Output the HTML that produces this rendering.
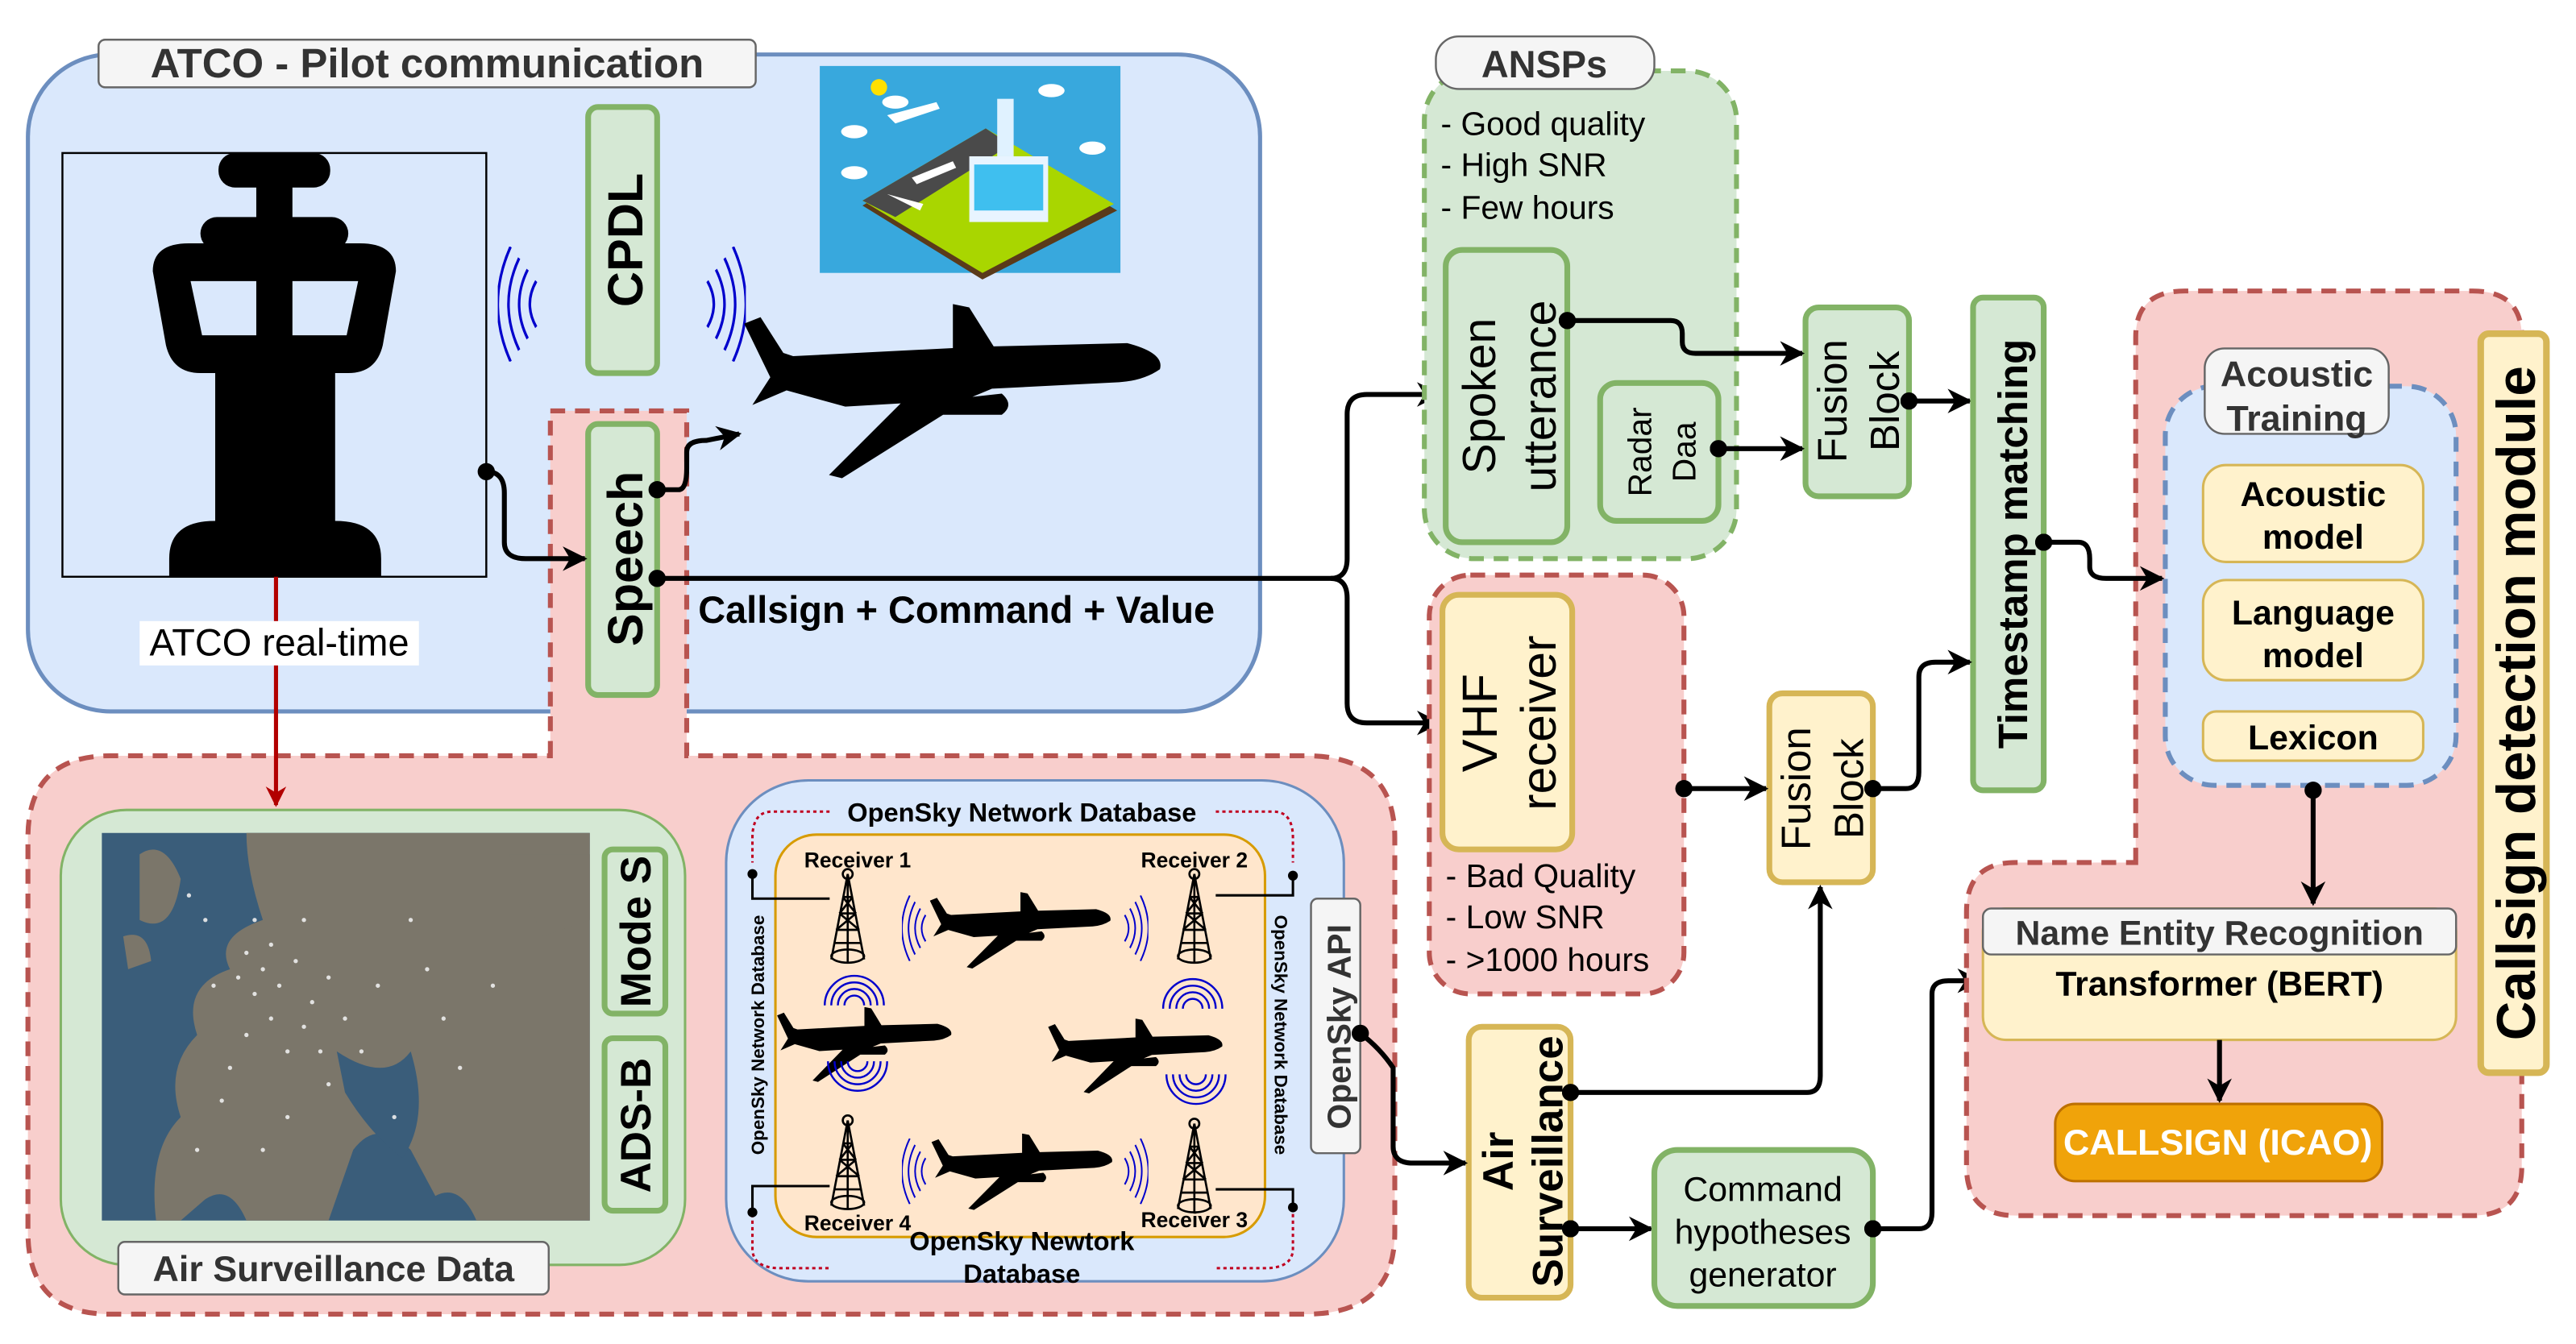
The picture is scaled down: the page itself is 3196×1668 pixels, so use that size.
<!DOCTYPE html>
<html><head><meta charset="utf-8"><style>
html,body{margin:0;padding:0;background:#fff}
svg{display:block}
text{font-family:"Liberation Sans",sans-serif}
</style></head><body>
<svg width="3196" height="1668" viewBox="0 0 1568 818" xmlns="http://www.w3.org/2000/svg">
<defs>
<symbol id="pl" viewBox="0 0 260 108" preserveAspectRatio="none">
<path d="M0,12 L10,8 L24,30 L30,32 L128,27 L128,0 L138,2 L153,26 L235,24 Q258,30 255,40 Q245,47 230,48 L152,52 L140,57 L158,55 Q166,62 158,68 L122,68 L60,107 L52,105 L96,61 L62,63 L26,53 L5,62 L16,45 Z" fill="#000"/>
</symbol>
<symbol id="tw" viewBox="0 0 24 60" preserveAspectRatio="none">
<g fill="none" stroke="#000" stroke-width="1.3">
<circle cx="12" cy="4" r="3"/><path d="M12,4 L2,56 M12,4 L22,56 M12,6 L12,58 M9,18 L15,18 M7,28 L17,28 M5,38 L19,38 M4,46 L20,46 M9,18 L17,28 M15,18 L7,28 M7,28 L19,38 M17,28 L5,38"/>
<ellipse cx="12" cy="54" rx="10" ry="4"/></g>
</symbol>
<symbol id="wv" viewBox="0 0 20 40" preserveAspectRatio="none">
<g fill="none" stroke="#00c" stroke-width="1.2"><path d="M14,8 Q6,20 14,32"/><path d="M10,4 Q0,20 10,36"/><path d="M6,0 Q-6,20 6,40"/><path d="M18,12 Q12,20 18,28"/></g>
</symbol>
<marker id="ar" viewBox="0 0 10 10" refX="9" refY="5" markerWidth="5" markerHeight="5" orient="auto-start-reverse" markerUnits="strokeWidth"><path d="M0,0 L10,5 L0,10 L3,5 Z" fill="#000"/></marker>
<marker id="arr" viewBox="0 0 10 10" refX="9" refY="5" markerWidth="5" markerHeight="5" orient="auto" markerUnits="strokeWidth"><path d="M0,0 L10,5 L0,10 L3,5 Z" fill="#b20000"/></marker>
<marker id="dt" viewBox="0 0 10 10" refX="5" refY="5" markerWidth="3.5" markerHeight="3.5" markerUnits="strokeWidth"><circle cx="5" cy="5" r="5" fill="#000"/></marker>
</defs>

<!-- ATCO area -->
<rect x="17" y="33" width="750" height="400" rx="50" fill="#dae8fc" stroke="#6c8ebf" stroke-width="2.5"/>
<rect x="60" y="24" width="400" height="29" rx="4" fill="#f5f5f5" stroke="#666" stroke-width="1.2"/>
<text x="260" y="47" text-anchor="middle" font-size="25" font-weight="bold" fill="#333">ATCO - Pilot communication</text>

<!-- tower -->
<rect x="38" y="93" width="258" height="258" fill="#dae8fc" stroke="#000" stroke-width="1.2"/>
<g fill="#000">
<rect x="133" y="93" width="68" height="21" rx="10"/>
<rect x="156" y="110" width="22" height="25"/>
<rect x="122" y="132" width="90" height="20" rx="10"/>
<path d="M93,165 Q93,148 115,148 L219,148 Q241,148 241,165 L233,210 Q229,227 212,227 L204,227 L204,317 Q232,317 232,340 L232,351 L103,351 L103,340 Q103,317 131,317 L131,227 L122,227 Q105,227 101,210 Z"/>
</g>
<path d="M116,171 L156,171 L156,204 L123,204 Z M178,171 L218,171 L211,204 L178,204 Z" fill="#dae8fc"/>

<!-- CPDL -->
<rect x="358" y="65" width="42" height="162" rx="6" fill="#d5e8d4" stroke="#82b366" stroke-width="3.5"/>
<text transform="translate(391,146) rotate(-90)" text-anchor="middle" font-size="30" font-weight="bold">CPDL</text>
<use href="#wv" x="303" y="150" width="26" height="70"/>
<g transform="translate(454,150) scale(-1,1)"><use href="#wv" x="0" y="0" width="26" height="70"/></g>

<!-- airport image -->
<rect x="499" y="40" width="183" height="126" fill="#38a8dd"/>
<path d="M525,125 L600,80 L680,128 L598,170 Z" fill="#5a3a1a"/>
<path d="M525,122 L600,78 L678,124 L598,166 Z" fill="#a9d600"/>
<path d="M525,122 L600,78 L615,88 L545,132 Z" fill="#4a4a4a"/>
<rect x="590" y="95" width="48" height="40" fill="#e8f4ff"/><rect x="593" y="100" width="42" height="28" fill="#3fbfef"/>
<rect x="607" y="60" width="10" height="35" fill="#e0f2ff"/>
<path d="M540,70 L570,62 L572,66 L545,75 Z M555,108 L580,98 L582,102 L558,112 Z M540,118 L562,124 L560,128 Z" fill="#fff"/>
<circle cx="535" cy="53" r="5" fill="#ffe000"/>
<g fill="#fff"><ellipse cx="520" cy="80" rx="8" ry="4"/><ellipse cx="545" cy="62" rx="8" ry="4"/><ellipse cx="640" cy="55" rx="8" ry="4"/><ellipse cx="665" cy="90" rx="8" ry="4"/><ellipse cx="520" cy="105" rx="8" ry="4"/></g>

<!-- big plane -->
<use href="#pl" x="453" y="185" width="258" height="107"/>

<!-- lower red area with speech tab -->
<path d="M335,460 L335,250 L418,250 L418,460 L795,460 Q849,460 849,510 L849,750 Q849,800 795,800 L67,800 Q17,800 17,750 L17,510 Q17,460 67,460 Z" fill="#f8cecc" stroke="#b85450" stroke-width="3" stroke-dasharray="9,6"/>

<!-- red line -->
<line x1="168" y1="351" x2="168" y2="490" stroke="#b20000" stroke-width="2.5" marker-end="url(#arr)"/>
<rect x="85" y="378" width="170" height="27" fill="#fff"/>
<text x="170" y="399" text-anchor="middle" font-size="23">ATCO real-time</text>

<!-- speech -->
<rect x="358" y="258" width="42" height="165" rx="6" fill="#d5e8d4" stroke="#82b366" stroke-width="3.5"/>
<text transform="translate(391,340) rotate(-90)" text-anchor="middle" font-size="30" font-weight="bold">Speech</text>

<!-- connectors from atco -->
<path d="M296,287 Q307,287 307,300 L307,330 Q307,340 320,340 L356,340" fill="none" stroke="#000" stroke-width="3" marker-start="url(#dt)" marker-end="url(#ar)"/>
<path d="M400,298 L413,298 Q418,298 418,285 L418,275 Q418,268 430,268 L450,264" fill="none" stroke="#000" stroke-width="3" marker-start="url(#dt)" marker-end="url(#ar)"/>
<path d="M400,352 L810,352 Q820,352 820,340 L820,252 Q820,240 832,240 L876,240" fill="none" stroke="#000" stroke-width="3" marker-start="url(#dt)" marker-end="url(#ar)"/>
<path d="M810,352 Q820,352 820,364 L820,428 Q820,440 832,440 L876,440" fill="none" stroke="#000" stroke-width="3" marker-end="url(#ar)"/>
<text x="425" y="379" font-size="23" font-weight="bold">Callsign + Command + Value</text>

<!-- Air surveillance data -->
<rect x="37" y="493" width="380" height="277" rx="40" fill="#d5e8d4" stroke="#82b366" stroke-width="1.5"/>
<rect x="62" y="507" width="297" height="236" fill="#3a5d7a"/>
<path d="M150,507 L359,507 L359,743 L290,743 Q280,720 265,728 L250,700 Q230,680 215,700 L200,743 L150,743 Q140,720 125,730 L110,743 L95,743 Q90,700 110,680 Q100,650 120,630 Q110,600 140,590 Q130,570 160,560 Q150,530 150,507 Z" fill="#7b766a"/>
<path d="M85,520 Q100,510 110,535 Q105,570 85,560 Z M75,570 Q90,565 92,585 L78,590 Z M310,520 L359,520 L359,560 L330,570 Z" fill="#7b766a"/>
<path d="M205,640 Q235,660 250,640 Q262,680 245,705 Q225,690 210,665 Z" fill="#3a5d7a"/>
<g fill="#eee" opacity="0.9">
<circle cx="150" cy="580" r="1.3"/><circle cx="160" cy="590" r="1.3"/><circle cx="170" cy="600" r="1.3"/><circle cx="180" cy="585" r="1.3"/><circle cx="190" cy="610" r="1.3"/><circle cx="200" cy="595" r="1.3"/><circle cx="165" cy="620" r="1.3"/><circle cx="175" cy="640" r="1.3"/><circle cx="140" cy="650" r="1.3"/><circle cx="210" cy="620" r="1.3"/><circle cx="220" cy="640" r="1.3"/><circle cx="155" cy="560" r="1.3"/><circle cx="185" cy="560" r="1.3"/><circle cx="130" cy="600" r="1.3"/><circle cx="250" cy="560" r="1.3"/><circle cx="270" cy="620" r="1.3"/><circle cx="300" cy="600" r="1.3"/><circle cx="240" cy="680" r="1.3"/><circle cx="120" cy="700" r="1.3"/><circle cx="160" cy="700" r="1.3"/>
<circle cx="145" cy="595" r="1.3"/><circle cx="155" cy="605" r="1.3"/><circle cx="165" cy="575" r="1.3"/><circle cx="185" cy="625" r="1.3"/><circle cx="195" cy="640" r="1.3"/><circle cx="150" cy="630" r="1.3"/><circle cx="230" cy="600" r="1.3"/><circle cx="260" cy="590" r="1.3"/><circle cx="280" cy="650" r="1.3"/><circle cx="200" cy="660" r="1.3"/><circle cx="135" cy="670" r="1.3"/><circle cx="175" cy="680" r="1.3"/><circle cx="115" cy="545" r="1.3"/><circle cx="125" cy="560" r="1.3"/></g>
<rect x="368" y="517" width="37" height="100" rx="5" fill="#d5e8d4" stroke="#82b366" stroke-width="3.5"/>
<text transform="translate(396,567) rotate(-90)" text-anchor="middle" font-size="26" font-weight="bold">Mode S</text>
<rect x="368" y="632" width="37" height="105" rx="5" fill="#d5e8d4" stroke="#82b366" stroke-width="3.5"/>
<text transform="translate(396,685) rotate(-90)" text-anchor="middle" font-size="26" font-weight="bold">ADS-B</text>
<rect x="72" y="756" width="262" height="32" rx="4" fill="#f5f5f5" stroke="#666" stroke-width="1.2"/>
<text x="203" y="780" text-anchor="middle" font-size="22" font-weight="bold" fill="#333">Air Surveillance Data</text>

<!-- OpenSky -->
<rect x="442" y="475" width="376" height="305" rx="50" fill="#dae8fc" stroke="#6c8ebf" stroke-width="1.5"/>
<rect x="472" y="508" width="298" height="245" rx="25" fill="#ffe6cc" stroke="#d79b00" stroke-width="1.5"/>
<path d="M505,494 L470,494 Q458,494 458,510 L458,525 M740,494 L775,494 Q787,494 787,510 L787,525 M458,735 L458,760 Q458,772 475,772 L505,772 M787,735 L787,760 Q787,772 770,772 L740,772" fill="none" stroke="#c00020" stroke-width="1.5" stroke-dasharray="2,2"/>
<rect x="505" y="483" width="235" height="20" fill="#dae8fc"/>
<text x="622" y="500" text-anchor="middle" font-size="16" font-weight="bold">OpenSky Network Database</text>
<text x="622" y="761" text-anchor="middle" font-size="16" font-weight="bold">OpenSky Newtork</text>
<text x="622" y="781" text-anchor="middle" font-size="16" font-weight="bold">Database</text>
<text transform="translate(465,630) rotate(-90)" text-anchor="middle" font-size="11" font-weight="bold">OpenSky Network Database</text>
<text transform="translate(776,630) rotate(90)" text-anchor="middle" font-size="11" font-weight="bold">OpenSky Network Database</text>
<text x="522" y="528" text-anchor="middle" font-size="13" font-weight="bold">Receiver 1</text>
<text x="727" y="528" text-anchor="middle" font-size="13" font-weight="bold">Receiver 2</text>
<text x="522" y="749" text-anchor="middle" font-size="13" font-weight="bold">Receiver 4</text>
<text x="727" y="747" text-anchor="middle" font-size="13" font-weight="bold">Receiver 3</text>
<path d="M458,532 L458,547 L505,547 M787,533 L787,545 L740,545 M458,738 L458,722 L505,722 M787,735 L787,724 L740,724" fill="none" stroke="#000" stroke-width="1.5"/>
<circle cx="458" cy="532" r="3"/><circle cx="787" cy="533" r="3"/><circle cx="458" cy="738" r="3"/><circle cx="787" cy="735" r="3"/>
<use href="#tw" x="504" y="528" width="24" height="60"/>
<use href="#tw" x="715" y="528" width="24" height="60"/>
<use href="#tw" x="504" y="678" width="24" height="60"/>
<use href="#tw" x="715" y="680" width="24" height="60"/>
<use href="#pl" x="566" y="543" width="112" height="47"/>
<use href="#pl" x="473" y="613" width="108" height="46"/>
<use href="#pl" x="638" y="620" width="108" height="46"/>
<use href="#pl" x="567" y="690" width="112" height="47"/>
<use href="#wv" x="549" y="545" width="16" height="40"/>
<g transform="translate(699,545) scale(-1,1)"><use href="#wv" width="16" height="40"/></g>
<use href="#wv" x="549" y="693" width="16" height="40"/>
<g transform="translate(699,693) scale(-1,1)"><use href="#wv" width="16" height="40"/></g>
<g fill="none" stroke="#00c" stroke-width="1.2">
<path d="M514,612 A6,6 0 0 1 526,612 M510,612 A10,10 0 0 1 530,612 M506,612 A14,14 0 0 1 534,612 M502,612 A18,18 0 0 1 538,612"/>
<path d="M516,646 A6,6 0 0 0 528,646 M512,646 A10,10 0 0 0 532,646 M508,646 A14,14 0 0 0 536,646 M504,646 A18,18 0 0 0 540,646"/>
<path d="M720,614 A6,6 0 0 1 732,614 M716,614 A10,10 0 0 1 736,614 M712,614 A14,14 0 0 1 740,614 M708,614 A18,18 0 0 1 744,614"/>
<path d="M722,654 A6,6 0 0 0 734,654 M718,654 A10,10 0 0 0 738,654 M714,654 A14,14 0 0 0 742,654 M710,654 A18,18 0 0 0 746,654"/>
</g>

<rect x="798" y="547" width="30" height="155" rx="4" fill="#f5f5f5" stroke="#666" stroke-width="1.2"/>
<text transform="translate(822,625) rotate(-90)" text-anchor="middle" font-size="20" font-weight="bold" fill="#333">OpenSky API</text>

<!-- ANSPs -->
<rect x="867" y="43" width="190" height="297" rx="30" fill="#d5e8d4" stroke="#82b366" stroke-width="3" stroke-dasharray="9,6"/>
<rect x="874" y="22" width="133" height="32" rx="14" fill="#f5f5f5" stroke="#666" stroke-width="1.2"/>
<text x="940" y="47" text-anchor="middle" font-size="23" font-weight="bold" fill="#333">ANSPs</text>
<text x="877" y="82" font-size="20">- Good quality</text>
<text x="877" y="107" font-size="20">- High SNR</text>
<text x="877" y="133" font-size="20">- Few hours</text>
<rect x="880" y="152" width="74" height="178" rx="10" fill="#d5e8d4" stroke="#82b366" stroke-width="3.5"/>
<text transform="translate(910,241) rotate(-90)" text-anchor="middle" font-size="28">Spoken</text>
<text transform="translate(947,241) rotate(-90)" text-anchor="middle" font-size="28">utterance</text>
<rect x="974" y="233" width="72" height="84" rx="10" fill="#d5e8d4" stroke="#82b366" stroke-width="3.5"/>
<text transform="translate(1005,275) rotate(-90)" text-anchor="middle" font-size="20">Radar</text>
<text transform="translate(1032,275) rotate(-90)" text-anchor="middle" font-size="20">Daa</text>

<rect x="1099" y="187" width="63" height="115" rx="8" fill="#d5e8d4" stroke="#82b366" stroke-width="3.5"/>
<text transform="translate(1124,244) rotate(-90)" text-anchor="middle" font-size="25">Fusion</text>
<text transform="translate(1156,244) rotate(-90)" text-anchor="middle" font-size="25">Block</text>
<path d="M954,195 L1017,195 Q1024,195 1024,203 L1024,208 Q1024,215 1032,215 L1097,215" fill="none" stroke="#000" stroke-width="3" marker-start="url(#dt)" marker-end="url(#ar)"/>
<path d="M1046,273 L1097,273" fill="none" stroke="#000" stroke-width="3" marker-start="url(#dt)" marker-end="url(#ar)"/>
<path d="M1162,244 L1199,244" fill="none" stroke="#000" stroke-width="3" marker-start="url(#dt)" marker-end="url(#ar)"/>

<rect x="1201" y="181" width="43" height="300" rx="6" fill="#d5e8d4" stroke="#82b366" stroke-width="3.5"/>
<text transform="translate(1234,331) rotate(-90)" text-anchor="middle" font-size="25" font-weight="bold">Timestamp matching</text>

<!-- VHF -->
<rect x="870" y="350" width="155" height="255" rx="25" fill="#f8cecc" stroke="#b85450" stroke-width="3" stroke-dasharray="9,6"/>
<rect x="878" y="362" width="79" height="155" rx="10" fill="#fff2cc" stroke="#d6b656" stroke-width="3.5"/>
<text transform="translate(911,440) rotate(-90)" text-anchor="middle" font-size="30">VHF</text>
<text transform="translate(947,440) rotate(-90)" text-anchor="middle" font-size="30">receiver</text>
<text x="880" y="540" font-size="20">- Bad Quality</text>
<text x="880" y="565" font-size="20">- Low SNR</text>
<text x="880" y="591" font-size="20">- &gt;1000 hours</text>

<rect x="1077" y="422" width="63" height="115" rx="8" fill="#fff2cc" stroke="#d6b656" stroke-width="3.5"/>
<text transform="translate(1102,480) rotate(-90)" text-anchor="middle" font-size="25">Fusion</text>
<text transform="translate(1134,480) rotate(-90)" text-anchor="middle" font-size="25">Block</text>
<path d="M1025,480 L1075,480" fill="none" stroke="#000" stroke-width="3" marker-start="url(#dt)" marker-end="url(#ar)"/>
<path d="M1140,480 L1160,480 Q1168,480 1168,470 L1168,412 Q1168,403 1178,403 L1199,403" fill="none" stroke="#000" stroke-width="3" marker-start="url(#dt)" marker-end="url(#ar)"/>

<!-- Air surveillance / command -->
<rect x="894" y="625" width="62" height="165" rx="8" fill="#fff2cc" stroke="#d6b656" stroke-width="3.5"/>
<text transform="translate(921,707) rotate(-90)" text-anchor="middle" font-size="26" font-weight="bold">Air</text>
<text transform="translate(951,707) rotate(-90)" text-anchor="middle" font-size="26" font-weight="bold">Surveillance</text>
<path d="M828,629 Q840,638 848,650 L848,698 Q848,708 860,708 L892,708" fill="none" stroke="#000" stroke-width="3" marker-start="url(#dt)" marker-end="url(#ar)"/>
<path d="M956,665 L1100,665 Q1108,665 1108,655 L1108,540" fill="none" stroke="#000" stroke-width="3" marker-start="url(#dt)" marker-end="url(#ar)"/>
<path d="M956,748 L1005,748" fill="none" stroke="#000" stroke-width="3" marker-start="url(#dt)" marker-end="url(#ar)"/>
<rect x="1007" y="700" width="133" height="95" rx="14" fill="#d5e8d4" stroke="#82b366" stroke-width="3.5"/>
<text x="1073" y="731" text-anchor="middle" font-size="21">Command</text>
<text x="1073" y="757" text-anchor="middle" font-size="21">hypotheses</text>
<text x="1073" y="783" text-anchor="middle" font-size="21">generator</text>
<path d="M1140,748 L1168,748 Q1176,748 1176,738 L1176,605 Q1176,597 1186,597 L1205,597" fill="none" stroke="#000" stroke-width="3" marker-start="url(#dt)" marker-end="url(#ar)"/>

<!-- Right region -->
<path d="M1300,525 L1300,205 Q1300,177 1330,177 L1505,177 Q1535,177 1535,205 L1535,710 Q1535,740 1505,740 L1227,740 Q1197,740 1197,710 L1197,555 Q1197,525 1227,525 Z" fill="#f8cecc" stroke="#b85450" stroke-width="3" stroke-dasharray="9,6"/>
<rect x="1510" y="203" width="40" height="450" rx="5" fill="#fff2cc" stroke="#d6b656" stroke-width="4"/>
<text transform="translate(1543,428) rotate(-90)" text-anchor="middle" font-size="33" font-weight="bold">Callsign detection module</text>
<rect x="1318" y="235" width="177" height="243" rx="30" fill="#dae8fc" stroke="#6c8ebf" stroke-width="3" stroke-dasharray="9,6"/>
<rect x="1342" y="212" width="112" height="52" rx="12" fill="#f5f5f5" stroke="#666" stroke-width="1.2"/>
<text x="1398" y="235" text-anchor="middle" font-size="22" font-weight="bold" fill="#333">Acoustic</text>
<text x="1398" y="262" text-anchor="middle" font-size="22" font-weight="bold" fill="#333">Training</text>
<rect x="1341" y="283" width="134" height="59" rx="14" fill="#fff2cc" stroke="#d6b656" stroke-width="1.5"/>
<text x="1408" y="308" text-anchor="middle" font-size="21" font-weight="bold">Acoustic</text>
<text x="1408" y="334" text-anchor="middle" font-size="21" font-weight="bold">model</text>
<rect x="1341" y="353" width="134" height="61" rx="14" fill="#fff2cc" stroke="#d6b656" stroke-width="1.5"/>
<text x="1408" y="380" text-anchor="middle" font-size="21" font-weight="bold">Language</text>
<text x="1408" y="406" text-anchor="middle" font-size="21" font-weight="bold">model</text>
<rect x="1341" y="433" width="134" height="30" rx="8" fill="#fff2cc" stroke="#d6b656" stroke-width="1.5"/>
<text x="1408" y="456" text-anchor="middle" font-size="21" font-weight="bold">Lexicon</text>
<path d="M1244,330 L1265,330 Q1272,330 1272,340 L1272,345 Q1272,352 1282,352 L1316,352" fill="none" stroke="#000" stroke-width="3" marker-start="url(#dt)" marker-end="url(#ar)"/>
<path d="M1408,481 L1408,550" fill="none" stroke="#000" stroke-width="3" marker-start="url(#dt)" marker-end="url(#ar)"/>

<rect x="1207" y="553" width="288" height="80" rx="14" fill="#fff2cc" stroke="#d6b656" stroke-width="1.5"/>
<rect x="1207" y="553" width="288" height="28" rx="5" fill="#f5f5f5" stroke="#666" stroke-width="1.2"/>
<text x="1351" y="575" text-anchor="middle" font-size="21" font-weight="bold" fill="#333">Name Entity Recognition</text>
<text x="1351" y="606" text-anchor="middle" font-size="21" font-weight="bold">Transformer (BERT)</text>
<path d="M1351,633 L1351,670" fill="none" stroke="#000" stroke-width="3" marker-end="url(#ar)"/>
<rect x="1251" y="672" width="199" height="47" rx="12" fill="#f0a30a" stroke="#bd7000" stroke-width="1.5"/>
<text x="1350" y="703" text-anchor="middle" font-size="22" font-weight="bold" fill="#fff">CALLSIGN (ICAO)</text>
</svg>
</body></html>
